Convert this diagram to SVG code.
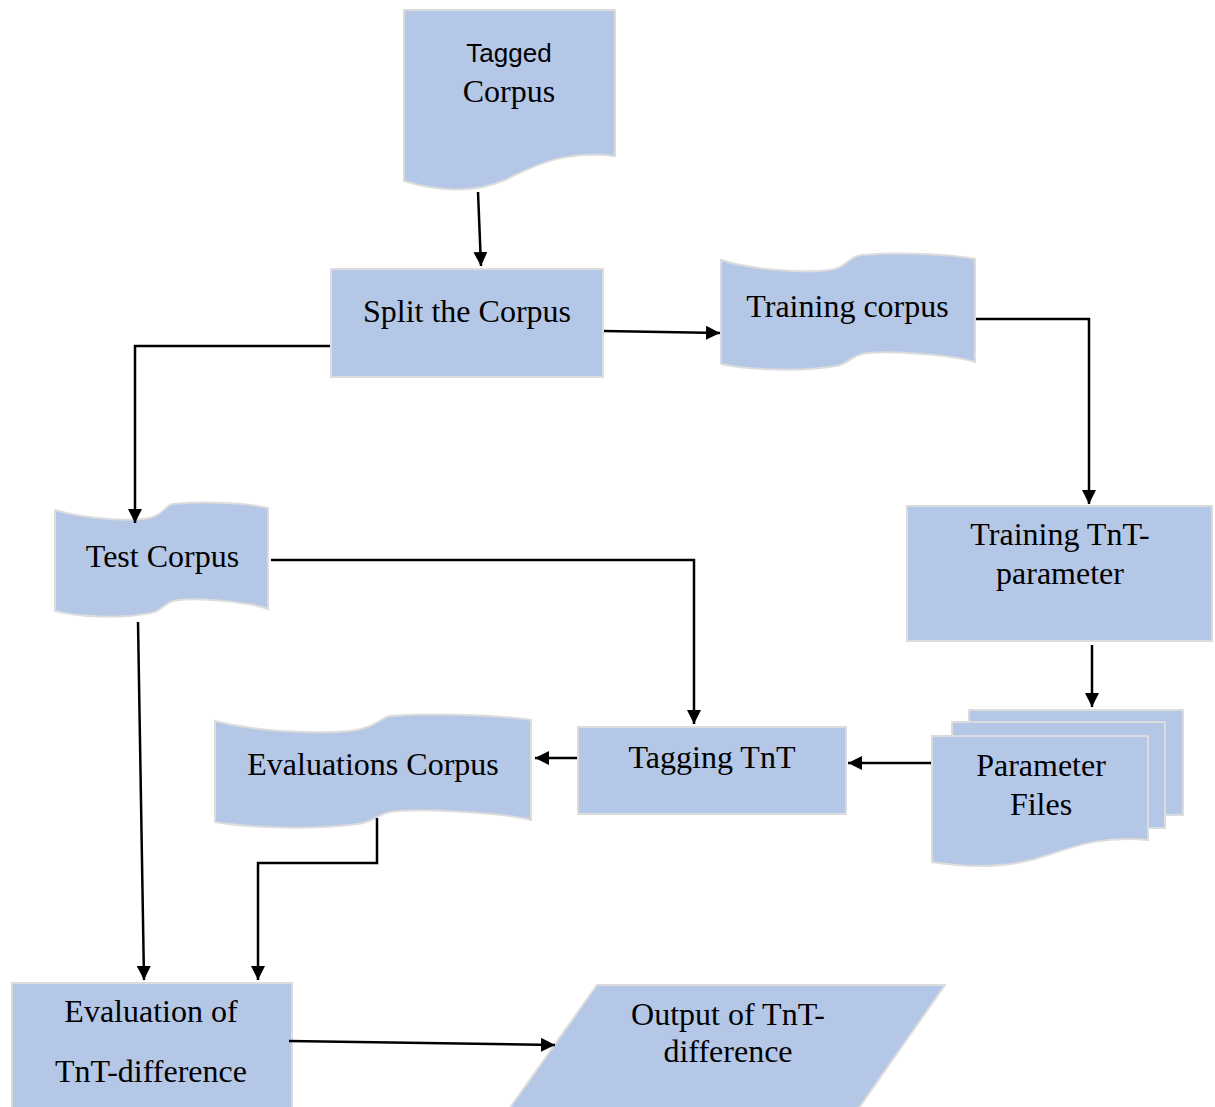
<svg xmlns="http://www.w3.org/2000/svg" width="1215" height="1107" viewBox="0 0 1215 1107">
<defs>
<style>
.shape{fill:#B4C7E7;stroke:#dcdcdc;stroke-width:2}
.t{font-family:"Liberation Serif","Times New Roman",serif;font-size:32px;fill:#000;text-anchor:middle}
.ts{font-family:"Liberation Sans",Arial,sans-serif;font-size:26px;fill:#000;text-anchor:middle}
.c{fill:none;stroke:#000;stroke-width:2.5}
</style>
<marker id="arr" viewBox="0 0 14 14" refX="14" refY="7" markerWidth="14" markerHeight="14" markerUnits="userSpaceOnUse" orient="auto">
<path d="M0,0 L14,7 L0,14 Z" fill="#000"/>
</marker>
</defs>
<rect width="1215" height="1107" fill="#fff"/>

<g id="tagged-corpus">
<path class="shape" d="M404,10 H615 V156 C560,150 530,168 505,180 C475,193 440,192 404,181 Z"/>
<text class="ts" x="509" y="62">Tagged</text>
<text class="t" x="509" y="102">Corpus</text>
</g>

<g id="split-corpus">
<rect class="shape" x="331" y="269" width="272" height="108"/>
<text class="t" x="467" y="322">Split the Corpus</text>
</g>

<g id="training-corpus">
<path class="shape" d="M721,260 C760,272 820,274 838,268 C848,264 850,256 862,255 C900,252 950,254 975,259 L975,362 C950,354 880,350 862,354 C850,357 848,364 836,366 C800,372 750,370 721,364 Z"/>
<text class="t" x="847.5" y="317">Training corpus</text>
</g>

<g id="test-corpus">
<path class="shape" d="M55,510 C88,520 138,522 153,517 C164,513 166,505 173,504 C205,501 247,503 268,508 L268,609 C247,601 188,597 173,601 C163,604 162,611 151,613 C121,619 79,617 55,611 Z"/>
<text class="t" x="162.5" y="567">Test Corpus</text>
</g>

<g id="training-tnt">
<rect class="shape" x="907" y="506" width="305" height="135"/>
<text class="t" x="1060" y="545">Training TnT-</text>
<text class="t" x="1060" y="584">parameter</text>
</g>

<g id="parameter-files">
<rect class="shape" x="969" y="710" width="214" height="105"/>
<rect class="shape" x="952" y="722" width="213" height="106"/>
<path class="shape" d="M932,736 H1148 V840 C1100,835 1070,848 1045,856 C1010,868 970,868 932,862 Z"/>
<text class="t" x="1041" y="776">Parameter</text>
<text class="t" x="1041" y="815">Files</text>
</g>

<g id="tagging-tnt">
<rect class="shape" x="578" y="727" width="268" height="87"/>
<text class="t" x="712" y="768">Tagging TnT</text>
</g>

<g id="evaluations-corpus">
<path class="shape" d="M215,721 C263,733 338,735 361,729 C377,725 383,717 390,716 C437,713 500,715 531,720 L531,820 C500,812 413,808 390,812 C376,815 373,822 358,824 C313,830 251,828 215,822 Z"/>
<text class="t" x="373" y="775">Evaluations Corpus</text>
</g>

<g id="evaluation-tnt">
<rect class="shape" x="12" y="983" width="280" height="130"/>
<text class="t" x="151" y="1022">Evaluation of</text>
<text class="t" x="151" y="1082">TnT-difference</text>
</g>

<g id="output-tnt">
<polygon class="shape" points="597,985 945,985 856,1112 507,1112"/>
<text class="t" x="728" y="1025">Output of TnT-</text>
<text class="t" x="728" y="1062">difference</text>
</g>

<g id="connectors">
<path class="c" marker-end="url(#arr)" d="M478,192 L481,266"/>
<path class="c" marker-end="url(#arr)" d="M604,331 L720,333"/>
<path class="c" marker-end="url(#arr)" d="M330,346 H135 V523"/>
<path class="c" marker-end="url(#arr)" d="M976,319 H1089 V504"/>
<path class="c" marker-end="url(#arr)" d="M271,560 H694 V724"/>
<path class="c" marker-end="url(#arr)" d="M1092,645 V707"/>
<path class="c" marker-end="url(#arr)" d="M931,763 H848"/>
<path class="c" marker-end="url(#arr)" d="M577,758 H535"/>
<path class="c" marker-end="url(#arr)" d="M377,818 V863 H258 V980"/>
<path class="c" marker-end="url(#arr)" d="M138,622 L144,980"/>
<path class="c" marker-end="url(#arr)" d="M289,1041 L555,1045"/>
</g>
</svg>
